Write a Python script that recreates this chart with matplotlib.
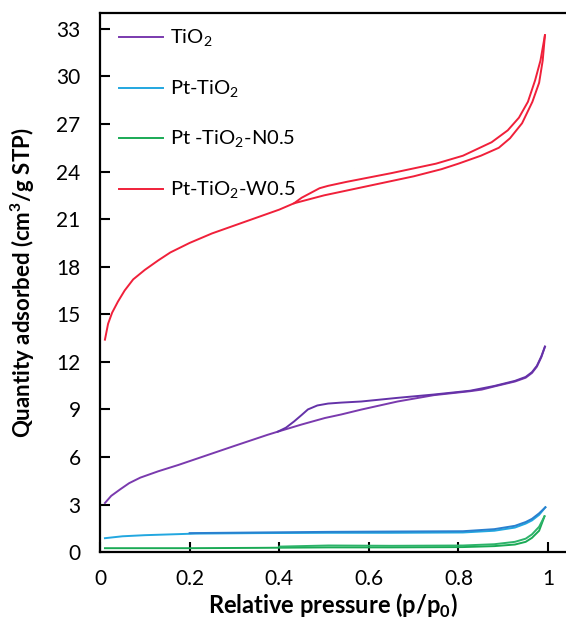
#!/usr/bin/env python3

'''
N2 adsorption / desorption isotherms of the TiO2 samples
'''

import numpy as np
import matplotlib
matplotlib.use('Agg')
import matplotlib.pyplot as plt

# ---- data (relative pressure, cm3/g STP) ----
labels = ['TiO$_2$', 'Pt-TiO$_2$', 'Pt -TiO$_2$-N0.5', 'Pt-TiO$_2$-W0.5']

tio2_ads_x = [0.011, 0.025, 0.045, 0.065, 0.09, 0.13, 0.175, 0.224, 0.3,
              0.374, 0.397, 0.45, 0.502, 0.538, 0.583, 0.664, 0.745, 0.826,
              0.852, 0.88, 0.926, 0.95, 0.964, 0.975, 0.985, 0.993]
tio2_ads_y = [3.1, 3.55, 3.96, 4.35, 4.7, 5.1, 5.5, 5.97, 6.7,
              7.4, 7.6, 8.05, 8.46, 8.68, 8.99, 9.5, 9.9, 10.15,
              10.25, 10.45, 10.76, 11.0, 11.3, 11.7, 12.3, 12.96]
tio2_des_x = [0.397, 0.415, 0.433, 0.45, 0.464, 0.485, 0.509, 0.538, 0.583,
              0.664, 0.745, 0.826, 0.88, 0.926, 0.95, 0.964, 0.975, 0.985,
              0.993]
tio2_des_y = [7.6, 7.85, 8.24, 8.65, 9.0, 9.25, 9.37, 9.43, 9.5,
              9.73, 9.94, 10.18, 10.48, 10.8, 11.05, 11.35, 11.75, 12.35,
              12.96]

pt_ads_x = [0.011, 0.05, 0.1, 0.213, 0.35, 0.51, 0.65, 0.81, 0.88, 0.926,
            0.95, 0.964, 0.98, 0.994]
pt_ads_y = [0.88, 1.0, 1.07, 1.17, 1.2, 1.22, 1.22, 1.24, 1.35, 1.55,
            1.8, 2.0, 2.35, 2.83]
pt_des_x = [0.2, 0.35, 0.51, 0.65, 0.81, 0.88, 0.926, 0.95, 0.964, 0.98, 0.994]
pt_des_y = [1.2, 1.24, 1.28, 1.3, 1.32, 1.45, 1.66, 1.9, 2.1, 2.45, 2.83]

n05_ads_x = [0.011, 0.1, 0.2, 0.35, 0.51, 0.65, 0.81, 0.88, 0.926, 0.95,
             0.964, 0.98, 0.992]
n05_ads_y = [0.25, 0.25, 0.25, 0.27, 0.3, 0.3, 0.32, 0.38, 0.48, 0.65,
             0.9, 1.35, 2.26]
n05_des_x = [0.4, 0.51, 0.65, 0.81, 0.88, 0.926, 0.95, 0.964, 0.98, 0.992]
n05_des_y = [0.35, 0.42, 0.4, 0.42, 0.5, 0.65, 0.85, 1.12, 1.6, 2.26]

w05_ads_x = [0.011, 0.018, 0.027, 0.04, 0.055, 0.074, 0.1, 0.13, 0.157, 0.2,
             0.25, 0.3, 0.35, 0.4, 0.433, 0.5, 0.6, 0.7, 0.762, 0.8, 0.85,
             0.89, 0.915, 0.942, 0.965, 0.98, 0.988, 0.993]
w05_ads_y = [13.4, 14.4, 15.1, 15.8, 16.5, 17.2, 17.8, 18.4, 18.9, 19.5,
             20.1, 20.6, 21.1, 21.6, 22.0, 22.5, 23.1, 23.7, 24.15, 24.5, 25.0,
             25.5, 26.1, 27.05, 28.4, 29.6, 31.0, 32.6]
w05_des_x = [0.433, 0.45, 0.47, 0.49, 0.509, 0.55, 0.65, 0.75, 0.81, 0.874,
             0.91, 0.935, 0.955, 0.971, 0.983, 0.993]
w05_des_y = [22.0, 22.35, 22.65, 22.95, 23.1, 23.35, 23.9, 24.5, 25.0, 25.85,
             26.6, 27.4, 28.4, 29.75, 31.0, 32.6]

x_ticks = [0, 0.2, 0.4, 0.6, 0.8, 1]
x_ticklabels = ['0', '0.2', '0.4', '0.6', '0.8', '1']
y_ticks = [0, 3, 6, 9, 12, 15, 18, 21, 24, 27, 30, 33]


def main():
    plt.rcParams['font.family'] = ['Lato', 'DejaVu Sans']
    plt.rcParams['mathtext.fontset'] = 'custom'
    plt.rcParams['mathtext.rm'] = 'Lato'
    plt.rcParams['mathtext.bf'] = 'Lato:bold'

    fig = plt.figure(figsize=(5.66, 6.19), dpi=100)
    ax = fig.add_axes([0.1767, 0.108, 0.8233, 0.871])

    purple = '#7A3AAE'
    red = '#F0203A'
    lw = 1.4

    ax.plot(tio2_ads_x, tio2_ads_y, color=purple, lw=lw, label=labels[0])
    ax.plot(tio2_des_x, tio2_des_y, color='#6432A8', lw=lw)
    ax.plot(pt_ads_x, pt_ads_y, color='#22A7E0', lw=lw, label=labels[1])
    ax.plot(pt_des_x, pt_des_y, color='#2A80CF', lw=lw)
    ax.plot(n05_ads_x, n05_ads_y, color='#1AAA55', lw=lw, label=labels[2])
    ax.plot(n05_des_x, n05_des_y, color='#2DB36A', lw=lw)
    ax.plot(w05_ads_x, w05_ads_y, color=red, lw=lw, label=labels[3])
    ax.plot(w05_des_x, w05_des_y, color=red, lw=lw)

    ax.set_xlim(0, 1.04)
    ax.set_ylim(0, 34)
    ax.set_xticks(x_ticks)
    ax.set_xticklabels(x_ticklabels)
    ax.set_yticks(y_ticks)
    ax.tick_params(direction='in', length=7, width=1.5, labelsize=15,
                   pad=14)
    ax.tick_params(axis='x', pad=12)
    ax.spines['right'].set_visible(False)
    for s in ['left', 'bottom', 'top']:
        ax.spines[s].set_linewidth(1.6)

    ax.set_xlabel('Relative pressure (p/p$_\\mathbf{0}$)', fontsize=17,
                  fontweight='bold', labelpad=2)
    ax.set_ylabel('Quantity adsorbed (cm$^\\mathbf{3}$/g STP)', fontsize=16,
                  fontweight='bold', labelpad=14)

    ax.legend(loc='upper left', bbox_to_anchor=(0.041, 0.972), frameon=False,
              fontsize=14.5, handlelength=2.2, handletextpad=0.35,
              labelspacing=1.45, borderaxespad=0, borderpad=0)

    fig.savefig('out.png', dpi=100)


if __name__ == '__main__':
    main()
